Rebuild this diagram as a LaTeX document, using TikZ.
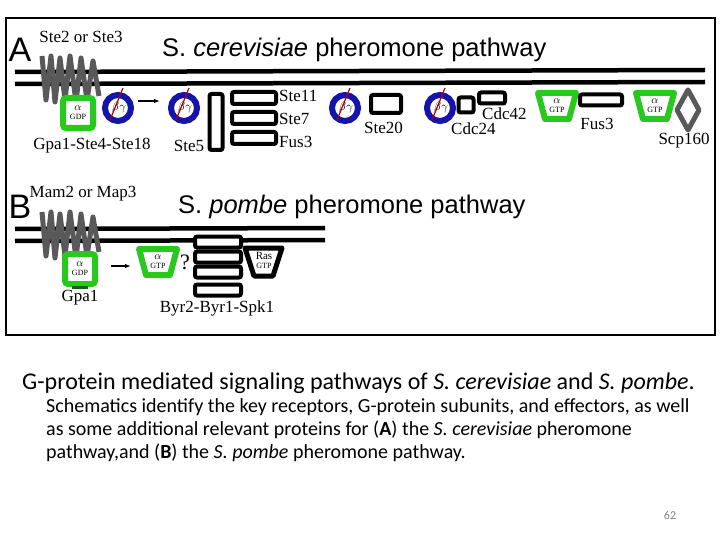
\documentclass[tikz,border=0pt]{standalone}
\usepackage{fontspec}
\setmainfont{Liberation Serif}
\newfontfamily\capfnt{Carlito}
\newfontfamily\hel{Liberation Sans}
\usetikzlibrary{arrows.meta}
\definecolor{gr}{RGB}{40,200,30}
\definecolor{bl}{RGB}{20,20,170}
\definecolor{dk}{RGB}{60,60,60}
\tikzset{
 lbl/.style={font=\fontsize{17}{17}\selectfont,inner sep=0pt},
 mem/.style={line width=4.5pt,black},
 rec/.style={line width=5pt,dk!85,line join=round},
 bar/.style={draw=black,line width=4pt,fill=white,rounded corners=2pt},
 bg/.pic={\draw[bl,line width=6pt,fill=white] (0,0) circle (13);
   \draw[red!70!black,line width=1.2pt] (5,-20) -- (-8,12);
   \node[font=\fontsize{12}{12}\selectfont,inner sep=0pt] at (1,0) {$\beta\gamma$};},
 gdp/.pic={\draw[gr,line width=6pt,fill=white,rounded corners=3pt] (-15,-15) rectangle (15,15);
   \node[font=\fontsize{11}{11}\selectfont,align=center,inner sep=0pt] at (0,0) {$\alpha$\\[-2pt]{\fontsize{8}{8}\selectfont GDP}};},
 gtp/.pic={\draw[gr,line width=6pt,fill=white,line join=round] (-19,-13) -- (19,-13) -- (12,13) -- (-12,13) -- cycle;
   \node[font=\fontsize{11}{11}\selectfont,align=center,inner sep=0pt] at (0,0) {$\alpha$\\[-2pt]{\fontsize{8}{8}\selectfont GTP}};},
 receptor/.pic={\draw[rec] (0,0) -- (4,44) -- (9,0) -- (13,46) -- (18,2) -- (23,44) -- (28,0) -- (34,46) -- (39,2) -- (45,44) -- (51,5) -- (57,40);},
}
\begin{document}
\begin{tikzpicture}[x=1pt,y=-1pt]
\useasboundingbox (0,0) rectangle (720,540);
\draw[line width=2pt] (6,18) rectangle (715,335);
% ---------- Panel A
\node[font=\hel\fontsize{34}{34}\selectfont,inner sep=0pt] (A) at (20,50) {A};
\node[lbl] (r1) at (81,37) {Ste2 or Ste3};
\node[font=\hel\fontsize{25.5}{25.5}\selectfont,anchor=west,inner sep=0pt] (t1) at (162,50) {S. \textit{cerevisiae} pheromone pathway};
\draw[mem] (15,72) -- (705,70);
\draw[mem] (15,84) -- (705,82);
\pic at (42,56) {receptor};
\pic at (78,113) {gdp};
\pic at (118,108) {bg};
\coordinate (a1) at (138,101); \coordinate (a2) at (160,101);
\draw[-{Latex[length=6pt]},line width=1.5pt] (a1) -- (a2);
\pic at (184,108) {bg};
\node[bar,minimum width=13pt,minimum height=56pt] (ste5) at (216,122) {};
\node[bar,minimum width=44pt,minimum height=12pt] (b1) at (254,98) {};
\node[bar,minimum width=44pt,minimum height=12pt] (b2) at (254,118) {};
\node[bar,minimum width=44pt,minimum height=12pt] (b3) at (254,138) {};
\node[lbl,anchor=west] (ste11) at (279,96) {Ste11};
\node[lbl,anchor=west] (ste7) at (279,119) {Ste7};
\node[lbl,anchor=west] (fus3a) at (279,142) {Fus3};
\node[lbl] (gpa) at (92,146) {Gpa1-Ste4-Ste18};
\node[lbl] (ste5l) at (189,146) {Ste5};
\pic at (345,108) {bg};
\node[bar,minimum width=30pt,minimum height=18pt] (ste20) at (386,104) {};
\node[lbl,anchor=west] (ste20l) at (364,128) {Ste20};
\pic at (440,108) {bg};
\node[bar,minimum width=15pt,minimum height=15pt] (cdc24) at (466,105) {};
\node[bar,minimum width=26pt,minimum height=11pt] (cdc42) at (492,98) {};
\node[lbl,anchor=west] (cdc42l) at (482,114) {Cdc42};
\node[lbl,anchor=west] (cdc24l) at (451,129) {Cdc24};
\pic at (557,106) {gtp};
\node[bar,minimum width=42pt,minimum height=11pt] (fus3b) at (601,100) {};
\node[lbl] (fus3bl) at (597,124) {Fus3};
\pic at (655,106) {gtp};
\draw[dk!85,line width=5pt,line join=round] (688,90) -- (699,110) -- (688,130) -- (677,110) -- cycle;
\node[lbl] (scp) at (684,141) {Scp160};
% ---------- Panel B
\node[font=\hel\fontsize{34}{34}\selectfont,inner sep=0pt] (B) at (20,207) {B};
\node[lbl] (r2) at (83,194) {Mam2 or Map3};
\node[font=\hel\fontsize{25.5}{25.5}\selectfont,anchor=west,inner sep=0pt] (t2) at (178,207) {S. \textit{pombe} pheromone pathway};
\draw[mem] (15,229) -- (325,228);
\draw[mem] (15,241) -- (325,240);
\pic at (42,212) {receptor};
\pic at (80,269) {gdp};
\draw[gr!50!black,line width=3pt] (72,287) -- (88,287);
\coordinate (b1a) at (111,266); \coordinate (b2a) at (131,266);
\draw[-{Latex[length=6pt]},line width=1.5pt] (b1a) -- (b2a);
\pic at (158,262) {gtp};
\node[font=\fontsize{22}{22}\selectfont,inner sep=0pt] (q) at (185,262) {?};
\node[bar,minimum width=46pt,minimum height=11pt] (p1) at (218,242) {};
\node[bar,minimum width=46pt,minimum height=11pt] (p2) at (218,257) {};
\node[bar,minimum width=46pt,minimum height=11pt] (p3) at (218,272) {};
\node[bar,minimum width=46pt,minimum height=11pt] (p4) at (218,290) {};
\draw[black,line width=5pt,fill=white,line join=round] (245,248) -- (282,248) -- (273,276) -- (254,276) -- cycle;
\node[font=\fontsize{11}{11}\selectfont,align=center,inner sep=0pt] (ras) at (264,260) {Ras\\[-2pt]{\fontsize{8}{8}\selectfont GTP}};
\node[lbl] (gpa1) at (80,298) {Gpa1};
\node[lbl] (byr) at (217,308) {Byr2-Byr1-Spk1};
% ---------- caption
\node[font=\capfnt\fontsize{24}{24}\selectfont,anchor=west,inner sep=0pt] (c1) at (22,383) {G-protein mediated signaling pathways of \textit{S. cerevisiae} and \textit{S. pombe}.};
\node[font=\capfnt\fontsize{20}{23}\selectfont,anchor=north west,align=left,inner sep=0pt] (c2) at (46,398) {Schematics identify the key receptors, G-protein subunits, and effectors, as well\\as some additional relevant proteins for (\textbf{A}) the \textit{S. cerevisiae} pheromone\\pathway,and (\textbf{B}) the \textit{S. pombe} pheromone pathway.};
\node[font=\capfnt\fontsize{12}{12}\selectfont,text=gray,inner sep=0pt] (pg) at (670,515) {62};
\end{tikzpicture}
\end{document}
